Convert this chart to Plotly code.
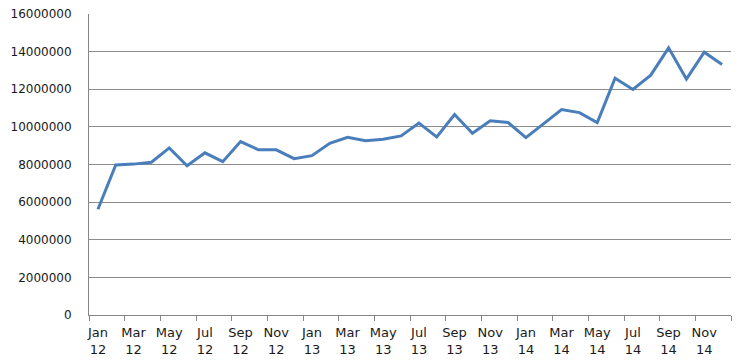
import plotly.graph_objects as go

months = ["Jan", "Feb", "Mar", "Apr", "May", "Jun", "Jul", "Aug", "Sep", "Oct", "Nov", "Dec"]
years = ["12", "13", "14"]
categories = [f"{m} {y}" for y in years for m in months]

values = [
    5620000, 7980000, 8020000, 8120000, 8880000, 7930000, 8620000, 8150000, 9220000, 8780000, 8780000, 8310000,
    8470000, 9130000, 9450000, 9260000, 9340000, 9520000, 10200000, 9470000, 10660000, 9660000, 10320000, 10230000,
    9430000, 10160000, 10920000, 10760000, 10230000, 12590000, 11990000, 12750000, 14200000, 12540000, 13970000, 13320000,
]

y_ticks = [0, 2000000, 4000000, 6000000, 8000000, 10000000, 12000000, 14000000, 16000000]

xpos = list(range(len(categories)))
label_pos = xpos[::2]
label_text = [categories[i].replace(" ", "<br>") for i in label_pos]

fig = go.Figure()
fig.add_trace(go.Scatter(
    x=xpos, y=values, mode="lines",
    line=dict(color="#4a7ebb", width=3),
    hoverinfo="skip",
))

yfont = dict(family="DejaVu Sans, sans-serif", size=12, color="#1a1a1a")
xfont = dict(family="DejaVu Sans, sans-serif", size=13, color="#1a1a1a")

fig.update_layout(
    width=746, height=360,
    margin=dict(l=89, r=15, t=14, b=45, autoexpand=False),
    paper_bgcolor="white", plot_bgcolor="white",
    showlegend=False,
    font=yfont,
    xaxis=dict(
        range=[-0.5, len(categories) - 0.5],
        tickmode="array", tickvals=label_pos, ticktext=label_text,
        ticks="", showgrid=False, zeroline=False, automargin=False,
        showline=True, linecolor="#868686", linewidth=1,
        tickfont=xfont, ticklabelstandoff=5,
        minor=dict(tick0=-0.5, dtick=2, ticks="outside", ticklen=5,
                   tickcolor="#868686", tickwidth=1, showgrid=False),
    ),
    yaxis=dict(
        range=[0, 16000000],
        tickmode="array", tickvals=y_ticks, ticktext=[str(v) for v in y_ticks],
        showgrid=True, gridcolor="#8c8c8c", gridwidth=1, automargin=False,
        zeroline=False, showline=True, linecolor="#868686", linewidth=1,
        ticks="", ticklabelstandoff=14,
        tickfont=yfont,
    ),
)

fig.write_html("out.html", config={"displayModeBar": False},
               post_script="document.body.style.margin='0';document.body.style.padding='0';")
